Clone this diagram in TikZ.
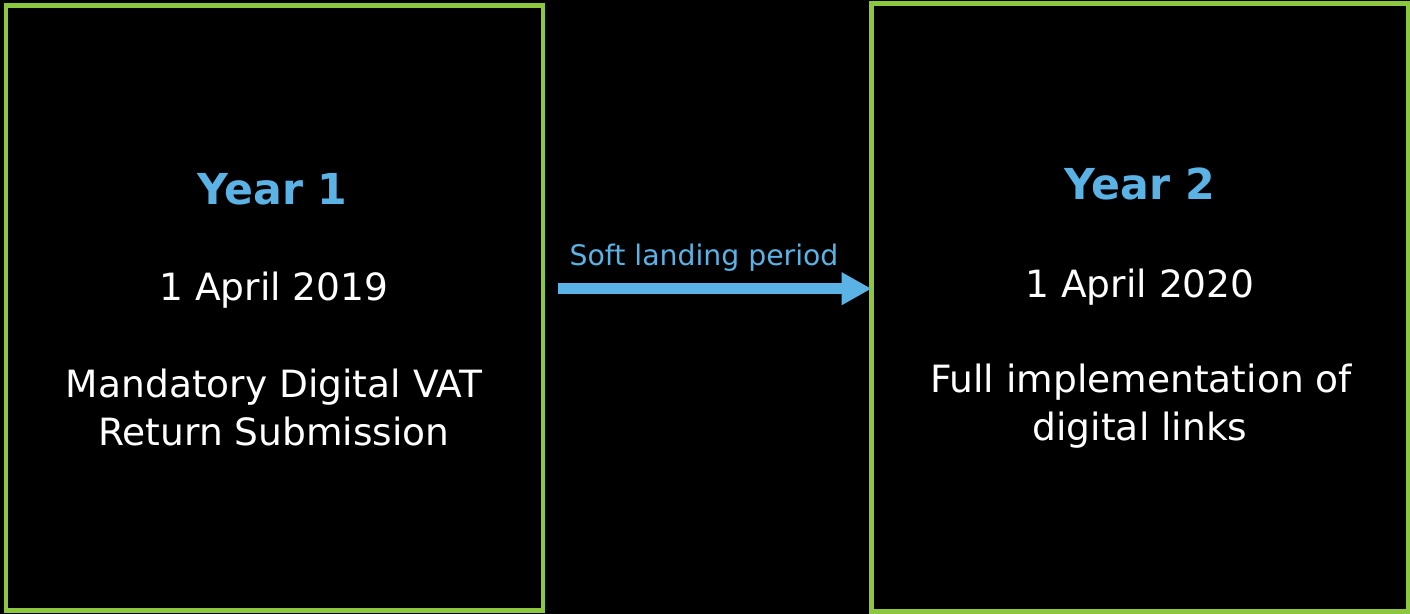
\documentclass[tikz,border=0pt]{standalone}
\usepackage{fontspec}
\setmainfont{DejaVu Sans}
\usetikzlibrary{arrows.meta}
\definecolor{boxgreen}{RGB}{141,198,63}
\definecolor{skyblue}{RGB}{91,178,228}
\begin{document}
\begin{tikzpicture}[x=1bp,y=-1bp,
  yearbox/.style={draw=boxgreen,line width=4.5bp,fill=black,outer sep=0pt,inner sep=0pt},
  yeartitle/.style={anchor=base,text=skyblue,inner sep=0pt,font=\fontsize{42.8}{48}\selectfont\bfseries},
  bodytext/.style={anchor=base,text=white,inner sep=0pt,font=\fontsize{37.7}{48}\selectfont},
  labeltext/.style={anchor=base,text=skyblue,inner sep=0pt,font=\fontsize{28.4}{34}\selectfont},
  bigarrow/.style={draw=skyblue,line width=11bp,-{Triangle[length=30bp,width=31bp]}}]
\fill[black] (0,0) rectangle (1410,614);
\useasboundingbox (0,0) rectangle (1410,614);
\node[yearbox,minimum width=537bp,minimum height=605bp] (box1) at (274.5,308) {};
\node[yearbox,minimum width=536.5bp,minimum height=608bp] (box2) at (1139.75,307.5) {};
\node[yeartitle] (y1) at (272.5,205) {Year 1};
\node[bodytext] (d1) at (274,300) {1 April 2019};
\node[bodytext] (m1) at (274,397) {Mandatory Digital VAT};
\node[bodytext] (m2) at (274,445) {Return Submission};
\node[yeartitle] (y2) at (1140,200) {Year 2};
\node[bodytext] (d2) at (1140,297) {1 April 2020};
\node[bodytext] (f1) at (1141,392) {Full implementation of};
\node[bodytext] (f2) at (1140,440) {digital links};
\node[labeltext] (soft) at (704,265) {Soft landing period};
\coordinate (astart) at (558,288.7);
\draw[bigarrow] (astart) -- (astart -| box2.west);
\end{tikzpicture}
\end{document}
